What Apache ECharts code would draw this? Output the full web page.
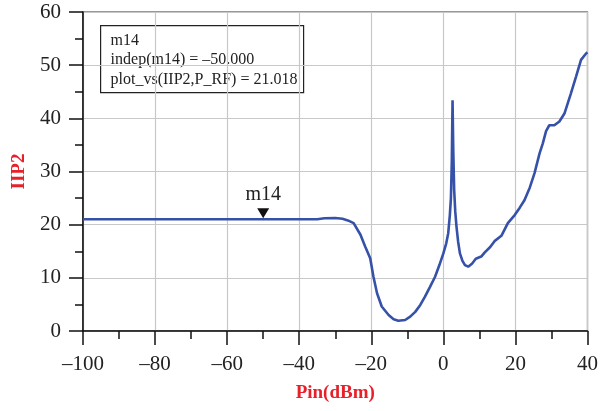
<!DOCTYPE html>
<html>
<head>
<meta charset="utf-8">
<script src="https://cdn.jsdelivr.net/npm/echarts@6/dist/echarts.min.js"></script>
<style>
html,body{margin:0;padding:0;background:#fff;}
#chart{width:601px;height:411px;}
</style>
</head>
<body>
<div id="chart"></div>
<script>
// Pin(dBm) 
var pin = [-100, -35, -33, -30, -28, -26.5, -24.9, -23, -21.7, -20.3, -19.4, -18.4, -17.1, -15.2, -13.8, -12.5,
	-10.6, -9.2, -7.8, -6.4, -5.1, -3.7, -2.3, -1.1, 0, 0.8, 1.35, 1.8, 2.1, 2.35, 2.55, 2.75, 3.0, 3.3, 3.65,
	4.1, 4.6, 5.3, 6.0, 6.9, 8.0, 9.0, 10.5, 11.5, 13, 14.2, 16.1, 17.9, 19.8, 21.2, 22.5, 24, 25.3, 26.7,
	27.6, 28.5, 29.4, 30.8, 32.2, 33.6, 35.4, 36.8, 38.2, 39.6, 40];
// IIP2
var iip2 = [21.018, 21.018, 21.2, 21.25, 21.1, 20.8, 20.3, 18.1, 15.9, 13.7, 10.2, 7.1, 4.6, 3.0, 2.2, 1.94,
	2.07, 2.7, 3.6, 4.9, 6.45, 8.3, 10.2, 12.4, 14.6, 16.5, 18.4, 21.8, 25, 32, 43.4, 34, 26.5, 22.5, 19.6,
	16.8, 14.6, 13.2, 12.4, 12.1, 12.7, 13.6, 14.0, 14.8, 15.8, 16.9, 17.9, 20.3, 21.8, 23.2, 24.6, 27.0, 29.7, 33.4,
	35.3, 37.6, 38.7, 38.7, 39.4, 40.9, 44.7, 47.8, 51.0, 52.2, 52.4];
// marker m14
var markerName = 'm14';
var markerX = -50;
var markerY = 21.018;
var boxLines = ['m14', 'indep(m14) = \u201350.000', 'plot_vs(IIP2,P_RF) = 21.018'];

var seriesData = pin.map(function (x, i) { return [x, iip2[i]]; });
var serif = 'Liberation Serif';
var dash = function (v) { return String(v).replace('-', '\u2013'); };

var myChart = echarts.init(document.getElementById('chart'));
var option = {
	animation: false,
	grid: { left: 83, right: 11, top: 12, bottom: 80, show: true, borderColor: '#333', borderWidth: 1.2 },
	xAxis: {
		type: 'value', min: -100, max: 40, interval: 20,
		name: 'Pin(dBm)', nameLocation: 'middle', nameGap: 53,
		nameTextStyle: { color: '#e8202a', fontFamily: serif, fontWeight: 'bold', fontSize: 19 },
		axisLine: { onZero: false, lineStyle: { color: '#111', width: 1.5 } },
		axisTick: { length: 14, lineStyle: { color: '#111', width: 1.5 } },
		minorTick: { show: true, splitNumber: 2, length: 8, lineStyle: { color: '#111', width: 1.5 } },
		axisLabel: { color: '#222', fontFamily: serif, fontSize: 21, margin: 23, formatter: dash },
		splitLine: { show: true, lineStyle: { color: '#c8c8c8', width: 1.2 } }
	},
	yAxis: {
		type: 'value', min: 0, max: 60, interval: 10,
		name: 'IIP2', nameLocation: 'middle', nameGap: 54,
		nameTextStyle: { color: '#e8202a', fontFamily: serif, fontWeight: 'bold', fontSize: 19 },
		axisLine: { show: true, onZero: false, lineStyle: { color: '#111', width: 1.5 } },
		axisTick: { show: true, length: 14, lineStyle: { color: '#111', width: 1.5 } },
		minorTick: { show: true, splitNumber: 2, length: 8, lineStyle: { color: '#111', width: 1.5 } },
		axisLabel: { color: '#222', fontFamily: serif, fontSize: 21, margin: 22 },
		splitLine: { show: true, lineStyle: { color: '#c8c8c8', width: 1.2 } }
	},
	series: [{
		type: 'line',
		data: seriesData,
		showSymbol: false,
		lineStyle: { color: '#3651a8', width: 2.6 },
		markPoint: {
			symbol: 'triangle', symbolRotate: 180, symbolSize: [12, 10], symbolOffset: [0, -6],
			itemStyle: { color: '#111' },
			label: { show: true, position: 'top', distance: 4, formatter: markerName,
				color: '#222', fontFamily: serif, fontSize: 20 },
			data: [{ coord: [markerX, markerY], name: markerName }]
		}
	}],
	graphic: [{
		type: 'group', left: 100, top: 25,
		children: [
			{ type: 'rect', shape: { x: 0, y: 0, width: 203, height: 67 },
				style: { fill: '#fff', stroke: '#222', lineWidth: 1.2 } }
		].concat(boxLines.map(function (t, i) {
			return { type: 'text', x: 10, y: 7 + i * 19.5,
				style: { text: t, fill: '#222', font: '16px "Liberation Serif"' } };
		}))
	}]
};
myChart.setOption(option);
</script>
</body>
</html>
